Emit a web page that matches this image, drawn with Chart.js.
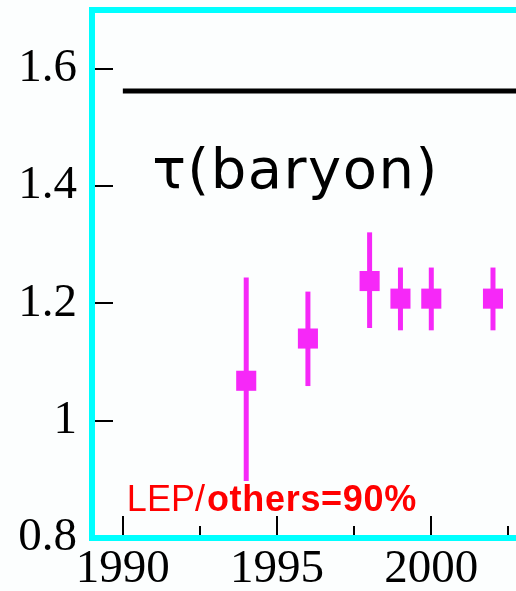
<!DOCTYPE html>
<html>
<head>
<meta charset="utf-8">
<script src="https://cdn.jsdelivr.net/npm/chart.js@4.4.1/dist/chart.umd.min.js"></script>
<style>
html,body{margin:0;padding:0;background:#fcfefe;overflow:hidden;}
#wrap{width:516px;height:591px;overflow:hidden;position:relative;}
#c{position:absolute;left:0;top:0;}
</style>
</head>
<body>
<div id="wrap"><canvas id="c" width="540" height="591"></canvas></div>
<script>
// ---- data ----
const years    = [1994, 1996, 1998, 1999, 2000, 2002];
const ratio    = [1.068, 1.140, 1.238, 1.208, 1.208, 1.208];
const errLow   = [0.897, 1.059, 1.158, 1.154, 1.154, 1.154];
const errHigh  = [1.244, 1.220, 1.321, 1.261, 1.261, 1.261];
const refValue = 1.562;
const refYears = [1990, 2004];
const xMajorTicks = [1990, 1995, 2000];
const xTickLabels = ['1990', '1995', '2000'];
const xMinorTicks = [1992.5, 1997.5, 2002.5];
const yTicks      = [0.8, 1.0, 1.2, 1.4, 1.6];
const yTickLabels = ['0.8', '1', '1.2', '1.4', '1.6'];
const titleText = 'τ(baryon)';
const noteA = 'LEP/';
const noteB = 'others=90%';

const MAG = '#f628f8';

const datasets = [];
// reference line
datasets.push({
  type: 'line',
  data: refYears.map(x => ({x, y: refValue})),
  borderColor: '#000', borderWidth: 5, pointRadius: 0, order: 3
});
// error bars
years.forEach((yr, i) => {
  datasets.push({
    type: 'line',
    data: [{x: yr, y: errLow[i]}, {x: yr, y: errHigh[i]}],
    borderColor: MAG, borderWidth: 5, pointRadius: 0, borderCapStyle: 'butt', order: 2
  });
});
// markers
datasets.push({
  type: 'scatter',
  data: years.map((x, i) => ({x, y: ratio[i]})),
  pointStyle: 'rect', pointRadius: 14.2, pointBorderWidth: 0,
  backgroundColor: MAG, borderColor: MAG, order: 1
});

const framePlugin = {
  id: 'frame',
  afterDatasetsDraw(chart) {
    const {ctx, chartArea: a, scales} = chart;
    const xs = scales.x, ys = scales.y;
    ctx.save();
    // text
    ctx.fillStyle = '#000';
    ctx.font = '56px "DejaVu Sans"';
    ctx.textBaseline = 'alphabetic';
    ctx.textAlign = 'left';
    try { ctx.letterSpacing = '1.5px'; } catch(e) {}
    ctx.fillText(titleText, xs.getPixelForValue(1990.95), ys.getPixelForValue(1.396));
    try { ctx.letterSpacing = '0px'; } catch(e) {}
    ctx.fillStyle = '#ff0000';
    ctx.font = '36px "Liberation Sans"';
    const lx = xs.getPixelForValue(1990.13), ly = ys.getPixelForValue(0.846);
    ctx.fillText(noteA, lx, ly);
    const wA = ctx.measureText(noteA).width;
    ctx.font = 'bold 36px "Liberation Sans"';
    try { ctx.letterSpacing = '0.7px'; } catch(e) {}
    ctx.fillText(noteB, lx + wA + 2, ly);
    try { ctx.letterSpacing = '0px'; } catch(e) {}
    // tick marks
    ctx.strokeStyle = '#000';
    ctx.lineWidth = 2;
    ctx.beginPath();
    yTicks.forEach(v => {
      const py = Math.round(ys.getPixelForValue(v));
      ctx.moveTo(a.left, py); ctx.lineTo(a.left + 21, py);
    });
    xMajorTicks.forEach(v => {
      const px = Math.round(xs.getPixelForValue(v));
      ctx.moveTo(px, a.bottom); ctx.lineTo(px, a.bottom - 22);
    });
    xMinorTicks.forEach(v => {
      const px = Math.round(xs.getPixelForValue(v));
      ctx.moveTo(px, a.bottom); ctx.lineTo(px, a.bottom - 12);
    });
    ctx.stroke();
    // cyan frame
    ctx.strokeStyle = '#00ffff';
    ctx.lineWidth = 6;
    ctx.strokeRect(a.left, a.top, a.right - a.left, a.bottom - a.top);
    ctx.restore();
  }
};

new Chart(document.getElementById('c'), {
  data: {datasets},
  options: {
    responsive: false,
    animation: false,
    events: [],
    layout: {autoPadding: false, padding: {top: 10, right: 10, left: 0, bottom: 0}},
    plugins: {legend: {display: false}, tooltip: {enabled: false}},
    scales: {
      x: {
        type: 'linear', min: 1989, max: 2003.2,
        grid: {display: false, drawTicks: false},
        border: {display: false},
        afterFit(s) { s.height = 53; s.paddingLeft = 0; s.paddingRight = 0; },
        afterBuildTicks(s) { s.ticks = xMajorTicks.map(v => ({value: v})); },
        ticks: {
          padding: 3, color: '#000', maxRotation: 0, autoSkip: false,
          font: {family: '"Liberation Serif"', size: 47},
          callback: (v) => { const i = xMajorTicks.indexOf(v); return i >= 0 ? xTickLabels[i] : ''; }
        }
      },
      y: {
        type: 'linear', min: 0.8, max: 1.7,
        grid: {display: false, drawTicks: false},
        border: {display: false},
        afterFit(s) { s.width = 92; s.paddingTop = 0; s.paddingBottom = 0; },
        afterBuildTicks(s) { s.ticks = yTicks.map(v => ({value: v})); },
        ticks: {
          padding: 15, color: '#000', autoSkip: false,
          font: {family: '"Liberation Serif"', size: 47},
          callback: (v) => { const i = yTicks.findIndex(t => Math.abs(t - v) < 1e-9); return i >= 0 ? yTickLabels[i] : ''; }
        }
      }
    }
  },
  plugins: [framePlugin]
});
</script>
</body>
</html>
